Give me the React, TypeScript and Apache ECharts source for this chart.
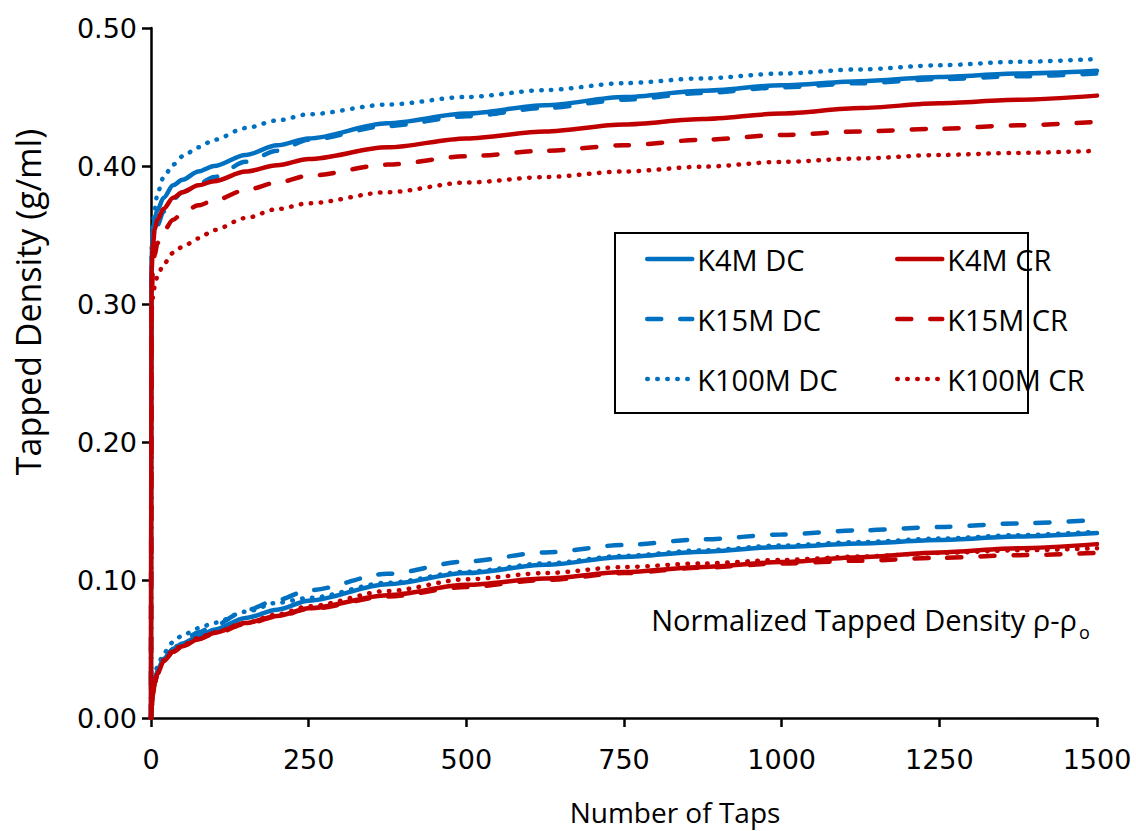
import React, { useEffect, useRef } from "react";
import * as echarts from "echarts";

const taps = [0, 1, 3, 6, 10, 20, 35, 50, 75, 100, 150, 200, 250, 375, 500, 625, 750, 875, 1000, 1125, 1250, 1375, 1500];

// Tapped density (g/ml)
const k4mDC = [0, 0.335, 0.352, 0.362, 0.368, 0.377, 0.386, 0.39, 0.396, 0.4, 0.408, 0.415, 0.42, 0.431, 0.438, 0.444, 0.45, 0.4545, 0.4585, 0.4615, 0.4645, 0.467, 0.469];
const k15mDC = [0, 0.325, 0.34, 0.35, 0.357, 0.367, 0.376, 0.381, 0.387, 0.392, 0.403, 0.411, 0.419, 0.429, 0.436, 0.442, 0.448, 0.453, 0.457, 0.46, 0.463, 0.465, 0.467];
const k100mDC = [0, 0.34, 0.358, 0.369, 0.38, 0.392, 0.401, 0.407, 0.4135, 0.419, 0.4275, 0.433, 0.4375, 0.4445, 0.45, 0.455, 0.46, 0.4635, 0.467, 0.47, 0.473, 0.4755, 0.4775];
const k4mCR = [0, 0.325, 0.343, 0.354, 0.361, 0.369, 0.377, 0.381, 0.386, 0.389, 0.396, 0.4005, 0.405, 0.4135, 0.42, 0.425, 0.43, 0.434, 0.438, 0.442, 0.4455, 0.448, 0.451];
const k15mCR = [0, 0.305, 0.323, 0.336, 0.344, 0.353, 0.361, 0.366, 0.3715, 0.375, 0.3826, 0.388, 0.393, 0.401, 0.407, 0.411, 0.415, 0.419, 0.4225, 0.425, 0.427, 0.4295, 0.432];
const k100mCR = [0, 0.296, 0.305, 0.313, 0.32, 0.329, 0.337, 0.3415, 0.3475, 0.3536, 0.3623, 0.3688, 0.373, 0.381, 0.388, 0.392, 0.396, 0.3995, 0.403, 0.4055, 0.408, 0.4095, 0.411];

// Normalized tapped density rho - rho0
const k4mDCn = [0, 0.01, 0.019, 0.027, 0.034, 0.043, 0.05, 0.054, 0.059, 0.064, 0.0725, 0.0785, 0.085, 0.097, 0.105, 0.111, 0.1167, 0.1205, 0.124, 0.1265, 0.129, 0.1315, 0.134];
const k15mDCn = [0, 0.009, 0.018, 0.026, 0.033, 0.042, 0.05, 0.056, 0.062, 0.067, 0.078, 0.0855, 0.0925, 0.1045, 0.1135, 0.12, 0.1254, 0.1295, 0.133, 0.136, 0.1384, 0.141, 0.1435];
const k100mDCn = [0, 0.014, 0.024, 0.031, 0.037, 0.047, 0.055, 0.06, 0.065, 0.069, 0.077, 0.0835, 0.087, 0.098, 0.106, 0.112, 0.1175, 0.1215, 0.125, 0.1275, 0.13, 0.1325, 0.135];
const k4mCRn = [0, 0.008, 0.017, 0.025, 0.032, 0.041, 0.048, 0.052, 0.057, 0.0616, 0.0688, 0.074, 0.0795, 0.089, 0.0965, 0.101, 0.1058, 0.1095, 0.113, 0.1165, 0.12, 0.123, 0.126];
const k15mCRn = [0, 0.008, 0.017, 0.025, 0.032, 0.041, 0.048, 0.052, 0.057, 0.061, 0.068, 0.0735, 0.079, 0.088, 0.095, 0.1, 0.105, 0.109, 0.112, 0.114, 0.116, 0.118, 0.1196];
const k100mCRn = [0, 0.009, 0.018, 0.026, 0.033, 0.042, 0.049, 0.053, 0.058, 0.062, 0.069, 0.075, 0.081, 0.092, 0.1005, 0.105, 0.1094, 0.112, 0.1145, 0.117, 0.1196, 0.1215, 0.123];

const xTicks = [0, 250, 500, 750, 1000, 1250, 1500];

const BLUE = "#0070C0";
const RED = "#C00000";

const seriesDefs = [
  { name: "K4M DC", color: BLUE, kind: "solid", up: k4mDC, low: k4mDCn },
  { name: "K15M DC", color: BLUE, kind: "dashed", up: k15mDC, low: k15mDCn },
  { name: "K100M DC", color: BLUE, kind: "dotted", up: k100mDC, low: k100mDCn },
  { name: "K4M CR", color: RED, kind: "solid", up: k4mCR, low: k4mCRn },
  { name: "K15M CR", color: RED, kind: "dashed", up: k15mCR, low: k15mCRn },
  { name: "K100M CR", color: RED, kind: "dotted", up: k100mCR, low: k100mCRn },
];

function lineStyleFor(kind: string, color: string) {
  if (kind === "dashed") return { color, width: 4.5, type: [14, 19] as any, cap: "round" as any };
  if (kind === "dotted") return { color, width: 4.5, type: [0.5, 9.5] as any, cap: "round" as any };
  return { color, width: 4.5, type: "solid" as any, cap: "round" as any };
}

export default function App() {
  const ref = useRef<HTMLDivElement>(null);
  useEffect(() => {
    if (!ref.current) return;
    const chart = echarts.init(ref.current, undefined, { renderer: "svg" });
    const series: any[] = [];
    seriesDefs.forEach((d) => {
      [d.up, d.low].forEach((vals) => {
        series.push({
          name: d.name,
          type: "line",
          data: taps.map((t, i) => [t, vals[i]]),
          symbol: "none",
          showSymbol: false,
          smooth: 0.3,
          smoothMonotone: "x",
          color: d.color,
          lineStyle: lineStyleFor(d.kind, d.color),
        });
      });
    });
    const legendText = { fontFamily: "Open Sans", fontSize: 29, color: "#000", lineHeight: 30 };
    const legendCommon = {
      orient: "vertical",
      top: 244,
      padding: 0,
      itemWidth: 45,
      itemHeight: 14,
      itemGap: 30,
      selectedMode: false,
      textStyle: legendText,
      itemStyle: { opacity: 0 },
      lineStyle: { width: 4.5 },
    };
    chart.setOption({
      animation: false,
      backgroundColor: "#fff",
      grid: { left: 151, right: 39, top: 28, bottom: 113, containLabel: false },
      xAxis: {
        type: "value",
        min: 0,
        max: 1500,
        interval: 250,
        axisLine: { show: true, lineStyle: { color: "#000", width: 2.5 } },
        axisTick: { show: true, length: 9, lineStyle: { color: "#000", width: 2.5 }, inside: false },
        splitLine: { show: false },
        axisLabel: {
          margin: 28,
          fontFamily: "DejaVu Sans",
          fontSize: 27,
          color: "#000",
          formatter: (v: number) => (xTicks.includes(v) ? String(v) : ""),
        },
      },
      yAxis: {
        type: "value",
        min: 0,
        max: 0.5,
        interval: 0.1,
        axisLine: { show: true, lineStyle: { color: "#000", width: 2.5 } },
        axisTick: { show: true, length: 9, lineStyle: { color: "#000", width: 2.5 } },
        splitLine: { show: false },
        axisLabel: {
          margin: 14,
          fontFamily: "DejaVu Sans",
          fontSize: 27,
          color: "#000",
          formatter: (v: number) => v.toFixed(2),
        },
      },
      legend: [
        { ...legendCommon, data: ["K4M DC", "K15M DC", "K100M DC"], left: 645 },
        { ...legendCommon, data: ["K4M CR", "K15M CR", "K100M CR"], left: 895 },
      ],
      graphic: [
        {
          type: "rect",
          shape: { x: 615, y: 233, width: 413, height: 180 },
          style: { fill: "none", stroke: "#000", lineWidth: 2 },
          z: 10,
        },
        {
          type: "text",
          x: 28,
          y: 302,
          rotation: Math.PI / 2,
          style: {
            text: "Tapped Density (g/ml)",
            fontFamily: "Open Sans",
            fontSize: 34,
            fill: "#000",
            textAlign: "center",
            textVerticalAlign: "middle",
          },
        },
        {
          type: "text",
          x: 675,
          y: 812,
          style: {
            text: "Number of Taps",
            fontFamily: "Open Sans",
            fontSize: 28,
            fill: "#000",
            textAlign: "center",
            textVerticalAlign: "middle",
          },
        },
        {
          type: "text",
          x: 1077,
          y: 619,
          style: {
            text: "Normalized Tapped Density ρ-ρ",
            fontFamily: "Open Sans",
            fontSize: 29,
            fill: "#000",
            textAlign: "right",
            textVerticalAlign: "middle",
          },
        },
        {
          type: "text",
          x: 1079,
          y: 632,
          style: {
            text: "o",
            fontFamily: "Open Sans",
            fontSize: 18,
            fill: "#000",
            textAlign: "left",
            textVerticalAlign: "middle",
          },
        },
      ],
      series,
    });
    return () => chart.dispose();
  }, []);
  return <div ref={ref} style={{ width: 1136, height: 831, position: "absolute", left: 0, top: 0 }} />;
}
